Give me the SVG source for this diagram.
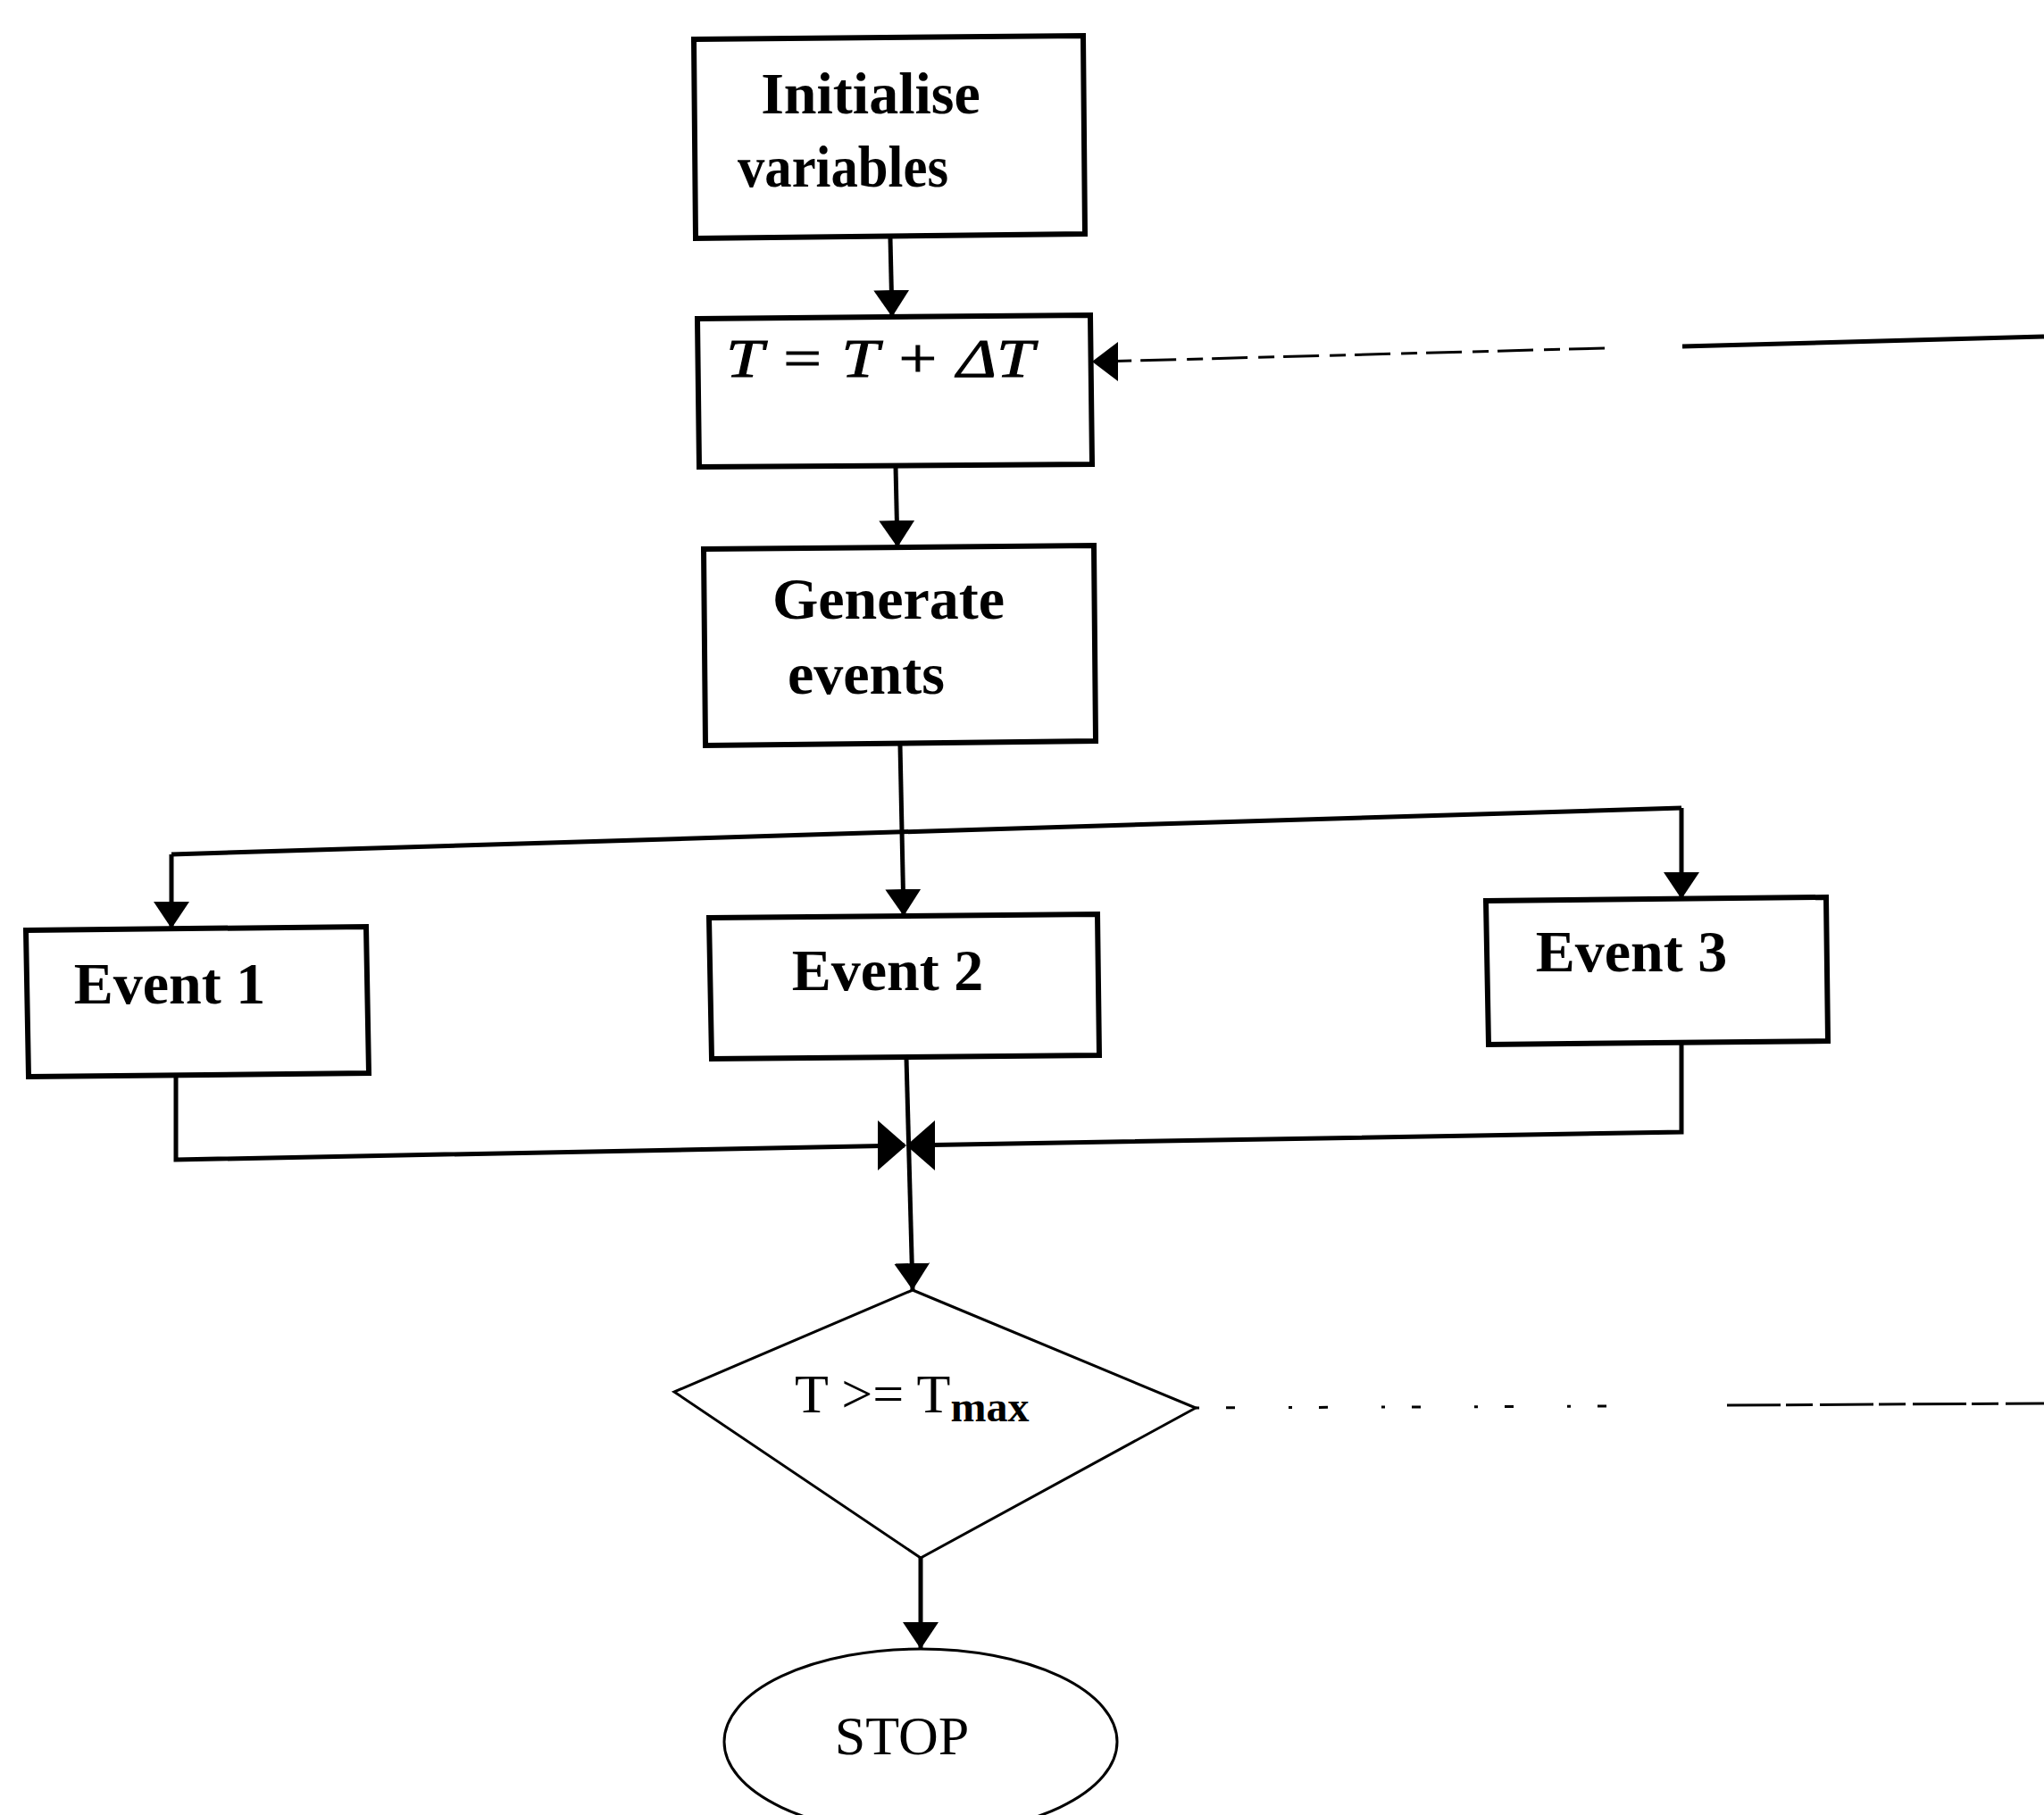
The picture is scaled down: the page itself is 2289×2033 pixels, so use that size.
<svg xmlns="http://www.w3.org/2000/svg" width="2289" height="2033" viewBox="0 0 2289 2033">
<defs>
<style>
.box{fill:none;stroke:#000;stroke-width:6;stroke-linejoin:miter}
.ln{fill:none;stroke:#000;stroke-width:5}
.thin{fill:none;stroke:#000;stroke-width:3}
.lbl{font-family:"Liberation Serif","Times New Roman",serif;font-size:66px;font-weight:bold;fill:#000;text-anchor:middle}
.reg{font-family:"Liberation Serif","Times New Roman",serif;font-size:62px;fill:#000}
</style>
<marker id="ah" viewBox="0 0 30 40" refX="30" refY="20" markerWidth="30" markerHeight="40" orient="auto" markerUnits="userSpaceOnUse">
<path d="M0,0 L30,20 L0,40 Z" fill="#000"/>
</marker>
</defs>
<rect width="2289" height="2033" fill="#fff"/>

<g id="connectors">
<path class="ln" d="M997,267 L999,355" marker-end="url(#ah)"/>
<path class="ln" d="M1003,523 L1005,613" marker-end="url(#ah)"/>
<path class="ln" d="M1008,835 L1012,1026" marker-end="url(#ah)"/>
<path class="ln" d="M192,957 L1883,905"/>
<path class="ln" d="M192,957 L192,1040" marker-end="url(#ah)"/>
<path class="ln" d="M1883,905 L1883,1007" marker-end="url(#ah)"/>
<path class="ln" d="M197,1204 L197,1299 L1013,1283"/>
<path class="ln" d="M1883,1168 L1883,1268 L1017,1283"/>
<path d="M1015,1283 L983,1255 L983,1311 Z" fill="#000"/>
<path d="M1015,1283 L1047,1255 L1047,1311 Z" fill="#000"/>
<path class="ln" d="M1015,1185 L1022,1445" marker-end="url(#ah)"/>
<path class="ln" d="M1031,1745 L1031,1847" marker-end="url(#ah)"/>
<path class="ln" d="M2289,377 L1884,388"/>
<path class="thin" d="M1797,390 L1230,405" stroke-dasharray="40 10 18 12"/>
<path d="M1223,405 L1252,383 L1252,427 Z" fill="#000"/>
<path class="thin" d="M1339,1577 L1800,1575" stroke-dasharray="4 30 10 60"/>
<path class="thin" d="M1934,1574 L2289,1572" stroke-dasharray="60 6 30 8"/>
</g>

<g id="n-init">
<path class="box" d="M777,44 L1213,40 L1215,262 L779,267 Z"/>
<text class="lbl" x="975" y="127">Initialise</text>
<text class="lbl" x="944" y="209" textLength="236" lengthAdjust="spacingAndGlyphs">variables</text>
</g>

<g id="n-tupdate">
<path class="box" d="M781,357 L1221,353 L1223,520 L783,523 Z"/>
<text class="reg" x="813" y="422" font-style="italic" font-size="76" textLength="345" lengthAdjust="spacingAndGlyphs" stroke="#000" stroke-width="1">T = T + ΔT</text>
</g>

<g id="n-generate">
<path class="box" d="M788,615 L1225,611 L1227,830 L790,835 Z"/>
<text class="lbl" x="995" y="693">Generate</text>
<text class="lbl" x="970" y="777">events</text>
</g>

<g id="n-event1">
<path class="box" d="M29,1042 L410,1038 L413,1202 L32,1206 Z"/>
<text class="lbl" x="190" y="1124">Event 1</text>
</g>

<g id="n-event2">
<path class="box" d="M794,1028 L1229,1024 L1231,1182 L797,1186 Z"/>
<text class="lbl" x="994" y="1109">Event 2</text>
</g>

<g id="n-event3">
<path class="box" d="M1664,1009 L2045,1005 L2047,1166 L1667,1170 Z"/>
<text class="lbl" x="1827" y="1088">Event 3</text>
</g>

<g id="n-decision">
<path class="thin" d="M1022,1445 L1339,1577 L1031,1745 L755,1559 Z"/>
<text class="reg" x="890" y="1582">T &gt;= T<tspan font-size="48" font-weight="bold" dy="10">max</tspan></text>
</g>

<g id="n-stop">
<ellipse class="thin" cx="1031" cy="1951" rx="220" ry="104"/>
<text class="reg" x="1010" y="1965" text-anchor="middle">STOP</text>
</g>
</svg>
